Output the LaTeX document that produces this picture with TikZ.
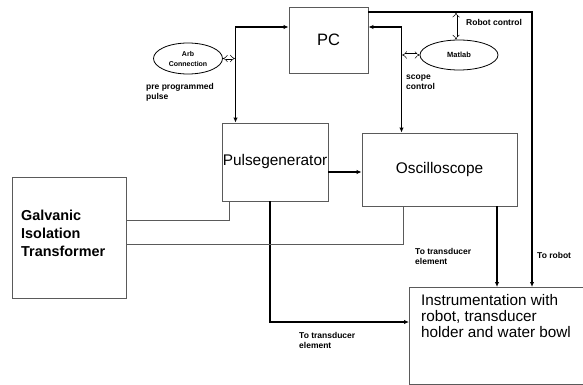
\documentclass[tikz,border=0pt]{standalone}
\usepackage{fontspec}
\setmainfont{Liberation Sans}
\usetikzlibrary{arrows.meta,positioning,shapes.geometric}
\definecolor{Frame}{HTML}{5A5A5A}

\begin{document}
\begin{tikzpicture}[x=1pt,y=-1pt,
  box/.style={draw=Frame,line width=0.9pt,inner sep=0pt,align=center,font=\fontsize{15.4}{18}\selectfont},
  oval/.style={draw=black,ellipse,line width=0.8pt,inner sep=0pt,align=center,font=\bfseries\fontsize{7}{10}\selectfont},
  arrow/.style={-{Latex[length=5pt,width=4.5pt]},line width=1.2pt},
  twoway/.style={{Latex[length=5pt,width=4.5pt]}-{Latex[length=5pt,width=4.5pt]},line width=1.2pt},
  wire/.style={draw=Frame,line width=0.9pt},
  dbl/.style={{Implies}-{Implies},double,double distance=2pt,line width=0.5pt},
  note/.style={font=\bfseries\fontsize{8.5}{10}\selectfont,align=left,anchor=west,inner sep=0pt}
]
\useasboundingbox (0,0) rectangle (583,385);
% blocks
\node[box,minimum width=79pt,minimum height=66pt,font=\fontsize{16.5}{18}\selectfont] (pc) at (328.5,40) {PC};
\node[box,minimum width=106pt,minimum height=78pt] (pulse) at (275,162) {Pulsegenerator};
\node[box,minimum width=155pt,minimum height=73pt] (osc) at (439.5,169.5) {Oscilloscope};
\node[box,minimum width=114pt,minimum height=121pt] (galv) at (69,237.5) {};
\node[anchor=west,inner sep=0pt,align=left,font=\bfseries\fontsize{14.4}{18}\selectfont] (galvtext) at (21,233)
  {Galvanic\\Isolation\\Transformer};
\node[box,minimum width=173.5pt,minimum height=97pt,anchor=north west] (instr) at (409,287) {};
\node[anchor=north west,inner sep=0pt,align=left,font=\fontsize{15.3}{16}\selectfont] (instrtext) at (421,294)
  {Instrumentation with\\robot, transducer\\holder and water bowl};
\node[oval,minimum width=69pt,minimum height=31pt] (arb) at (188,58.5) {Arb\\Connection};
\node[oval,minimum width=78pt,minimum height=30pt,font=\bfseries\fontsize{7.5}{9}\selectfont] (matlab) at (459,55) {Matlab};

% junctions
\coordinate (ljunc) at (235.5,27);
\coordinate (rjunc) at (401.5,27);
\coordinate (rtop) at (532,12);
\coordinate (gp) at (229,220);
\coordinate (go) at (403,244);
\coordinate (pt) at (270,322);
\coordinate (oi) at (497,250);

% connectors
\draw[twoway] (pc.west |- ljunc) -| (pulse.north -| ljunc);
\draw[twoway] (pc.east |- rjunc) -| (osc.north -| rjunc);
\draw[arrow] (pc.east |- rtop) -| (instr.north -| rtop);
\draw[arrow] ([yshift=-10pt]pulse.east) -- ([yshift=-10pt]pulse.east -| osc.west);
\draw[arrow] (pulse.south -| pt) |- (instr.west |- pt);
\draw[arrow] (osc.south -| oi) -- (instr.north -| oi);
\draw[wire] (galv.east |- gp) -| (pulse.south -| gp);
\draw[wire] (galv.east |- go) -| (osc.south -| go);
\draw[dbl] (arb.east) -- ([xshift=-0.6pt]arb.east -| ljunc);
\draw[dbl] (matlab.west) -- ([xshift=0.6pt]matlab.west -| rjunc);
\draw[dbl] ([xshift=-3pt]matlab.north) -- ([xshift=-3pt,yshift=-0.6pt]matlab.north |- rtop);

% labels
\node[note] (prelbl) at (146,92) {pre programmed\\pulse};
\node[note] (scopelbl) at (406,82) {scope\\control};
\node[note] (robotlbl) at (466,22) {Robot control};
\node[note] (tduplbl) at (415,256) {To transducer\\element};
\node[note] (torobot) at (537,255) {To robot};
\node[note] (tdlowlbl) at (299,340) {To transducer\\element};
\end{tikzpicture}
\end{document}
